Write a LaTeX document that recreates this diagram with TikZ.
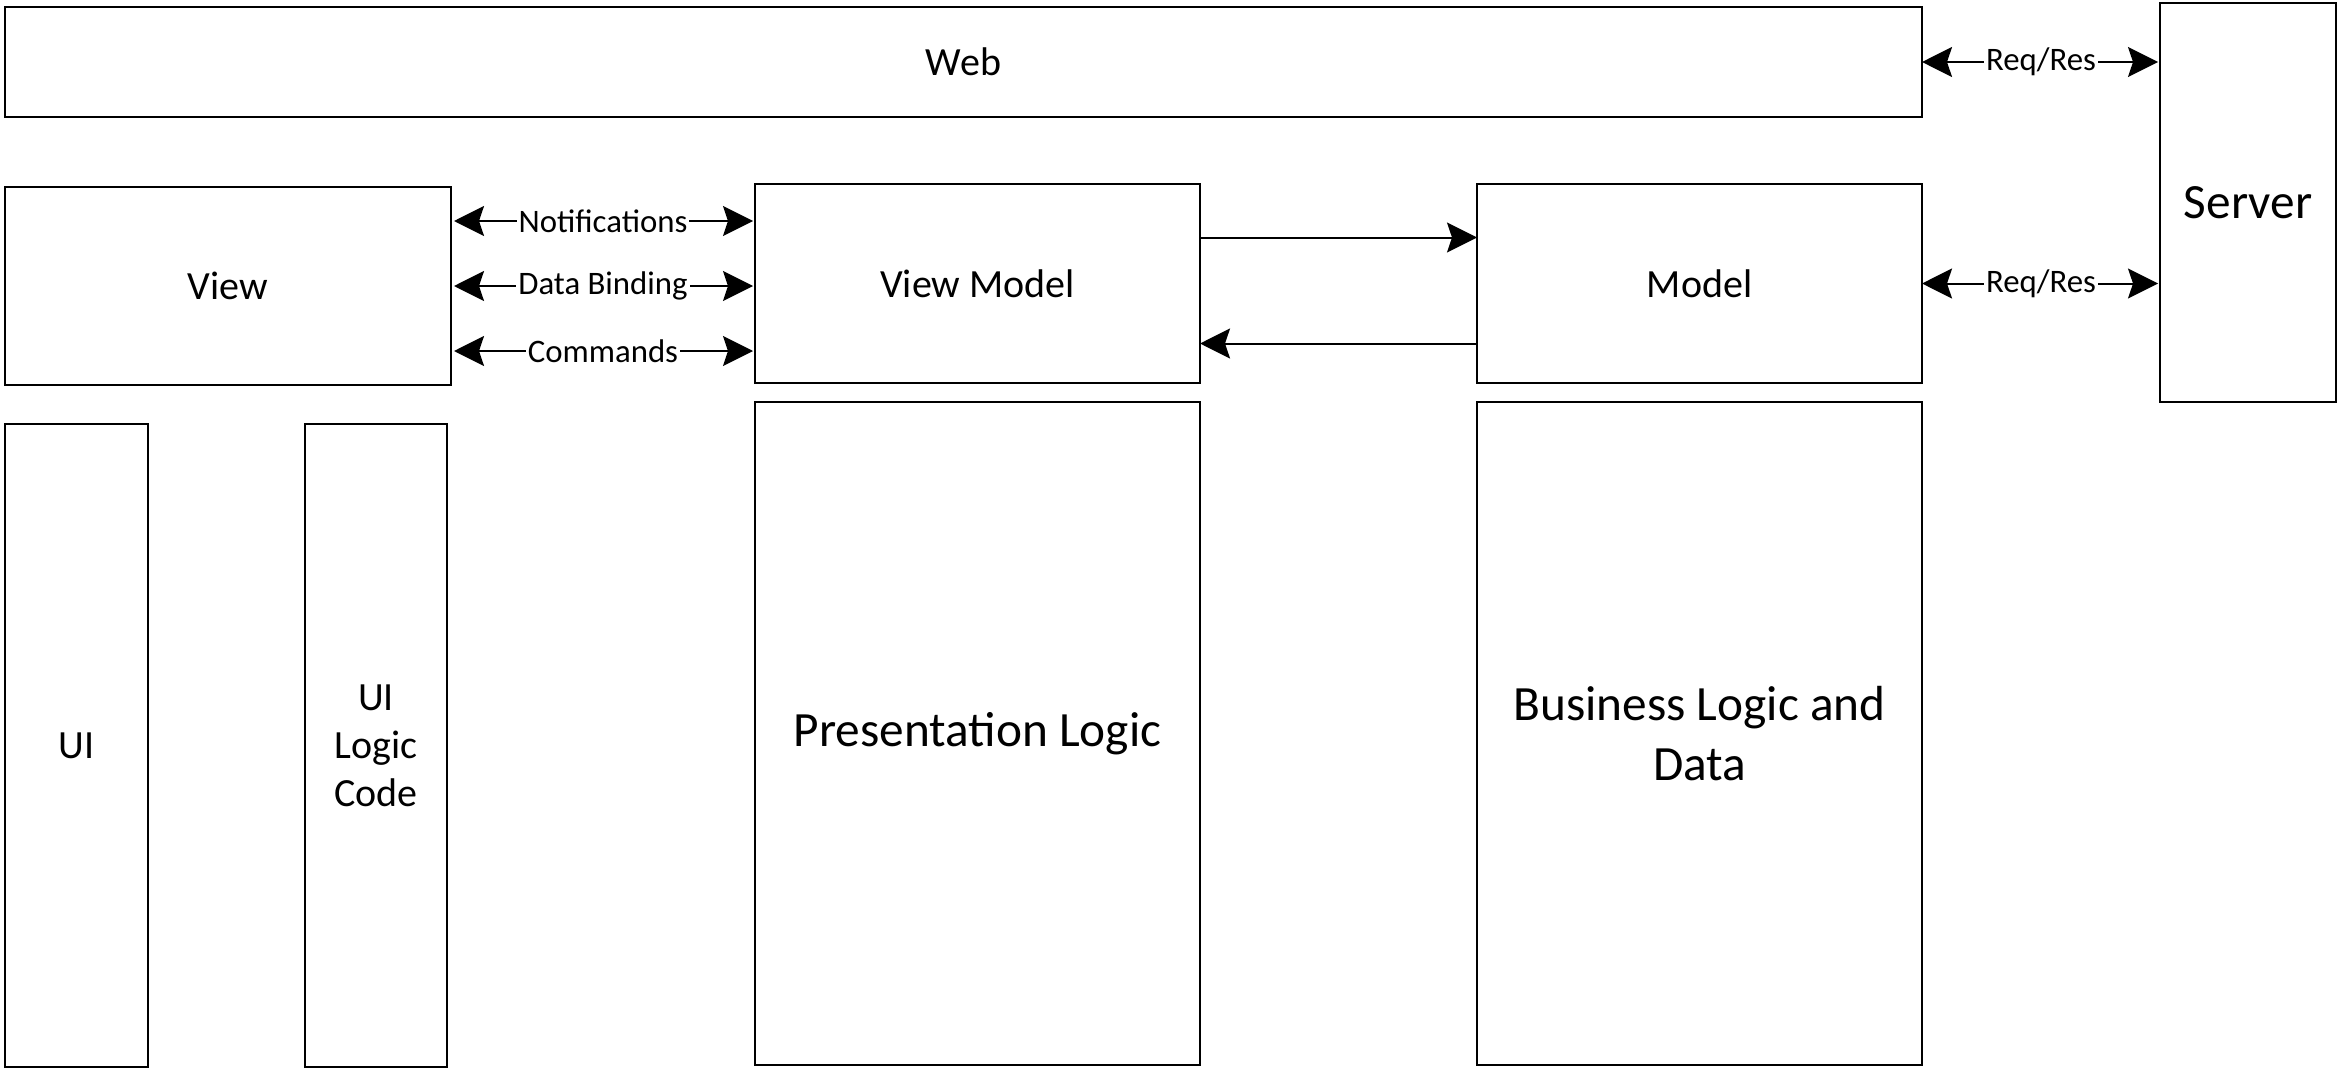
\documentclass[tikz,border=0pt]{standalone}
\usepackage{fontspec}
\setmainfont{Carlito}
\usetikzlibrary{arrows.meta}

\begin{document}
\begin{tikzpicture}[line width=1pt,
	tipB/.tip={Stealth[length=15pt,width=15pt,inset=2.5pt]},
	box/.style={draw,rectangle,inner sep=0pt,outer sep=0pt,align=center,font=\fontsize{20pt}{24pt}\selectfont},
	bigbox/.style={box,font=\fontsize{24.65pt}{29.6pt}\selectfont},
	lbl/.style={fill=white,inner xsep=1pt,inner ysep=0pt,font=\fontsize{16.4pt}{19.7pt}\selectfont},
	small/.style={tipB-tipB,shorten <=1.5pt,shorten >=1pt},
	big/.style={tipB-tipB,shorten >=1pt}]
		\useasboundingbox (0,0) rectangle (1171.5pt,-535pt);
		\node[box,minimum width=958.5pt,minimum height=55pt](web) at (481.75pt,-31pt) {Web};
		\node[bigbox,minimum width=88pt,minimum height=199.5pt](server) at (1124pt,-101.25pt) {Server};
		\node[box,minimum width=223pt,minimum height=99pt](view) at (114pt,-143pt) {View};
		\node[box,minimum width=222.5pt,minimum height=99.5pt](vm) at (488.75pt,-141.75pt) {View Model};
		\node[box,minimum width=222.5pt,minimum height=99.5pt](model) at (849.75pt,-141.75pt) {Model};
		\node[bigbox,minimum width=222.5pt,minimum height=331.5pt](pl) at (488.75pt,-366.75pt) {Presentation Logic};
		\node[bigbox,minimum width=222.5pt,minimum height=331.5pt](bld) at (849.75pt,-366.75pt) {Business Logic and\\Data};
		\node[box,minimum width=71.5pt,minimum height=321.5pt](ui) at (38.25pt,-372.75pt) {UI};
		\node[box,minimum width=71pt,minimum height=321.5pt](uicode) at (188pt,-372.75pt) {UI\\Logic\\Code};
		\path[small]
		([yshift=32.5pt]view.east) edge node[lbl] {Notifications} ([yshift=32.5pt]view.east -| vm.west)
		(view.east) edge node[lbl] {Data Binding} (view.east -| vm.west)
		([yshift=-32.5pt]view.east) edge node[lbl] {Commands} ([yshift=-32.5pt]view.east -| vm.west);
		\path[big]
		(web.east) edge node[lbl] {Req/Res} (web.east -| server.west)
		(model.east) edge node[lbl] {Req/Res} (model.east -| server.west);
		\path[-tipB]
		([yshift=23pt]vm.east) edge ([yshift=23pt]vm.east -| model.west)
		([yshift=-30pt]model.west) edge ([yshift=-30pt]model.west -| vm.east);
		\end{tikzpicture}
\end{document}
